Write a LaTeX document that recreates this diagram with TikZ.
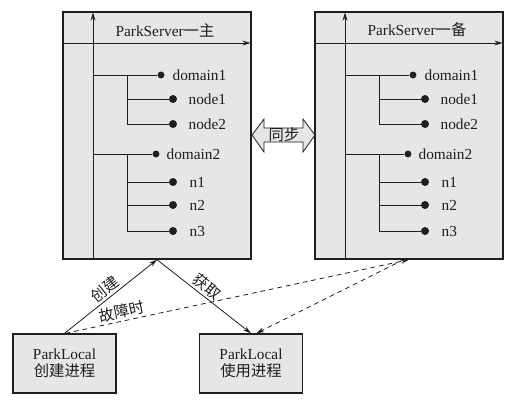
\documentclass[tikz,border=0pt]{standalone}
\usepackage{fontspec}
\setmainfont{Liberation Serif}
\newfontfamily\cjk{Noto Sans CJK SC}
\usetikzlibrary{arrows.meta}
\definecolor{boxfill}{RGB}{230,230,230}
\definecolor{ink}{RGB}{30,30,30}
\tikzset{
  every node/.style={font=\fontsize{11.5pt}{13pt}\selectfont, text=ink},
  srvbox/.style={draw=ink, fill=boxfill, line width=1pt, rectangle,
    minimum width=141pt, minimum height=185.25pt, inner sep=0pt},
  localbox/.style={draw=ink, fill=boxfill, line width=1pt, rectangle,
    minimum width=77.25pt, minimum height=44.25pt, align=center, inner sep=0pt},
  axis/.style={draw=ink, line width=0.6pt, -{Stealth[length=6pt,width=3.6pt]}},
  tree/.style={draw=ink, line width=0.6pt},
  dotd/.style={circle, fill=ink, inner sep=0pt, minimum size=5.2pt},
  dotn/.style={circle, fill=ink, inner sep=0pt, minimum size=6pt},
  lab/.style={anchor=west, inner sep=1pt},
  link/.style={draw=ink, line width=0.6pt, -{Stealth[length=6pt,width=3.6pt]}},
  dlink/.style={draw=ink, line width=0.6pt, dash pattern=on 3.5pt off 3pt,
    -{Stealth[length=6pt,width=3.6pt]}},
  lbl/.style={font=\cjk\fontsize{11.5pt}{13pt}\selectfont, inner sep=0.5pt},
  synctext/.style={font=\cjk\fontsize{11.5pt}{13pt}\selectfont, inner sep=0pt},
  server/.pic={
    \node[srvbox] (-box) at (94,123.5) {};
    \draw[axis] (30,247) -- (30,0.5);
    \draw[axis] (0,31) -- (187.5,31);
    \node (-title) at (102,18) {ParkServer{\cjk #1}};
    \node[dotd] (-d1) at (98,63) {};
    \node[dotn] (-a1) at (110,87) {};
    \node[dotn] (-a2) at (110,112) {};
    \node[dotd] (-d2) at (93,142) {};
    \node[dotn] (-b1) at (110,170) {};
    \node[dotn] (-b2) at (110,193) {};
    \node[dotn] (-b3) at (110,219) {};
    \draw[tree] (30,63) -- (-d1);
    \draw[tree] (64,63) -- (64,112);
    \draw[tree] (64,87) -- (-a1);
    \draw[tree] (64,112) -- (-a2);
    \draw[tree] (30,142) -- (-d2);
    \draw[tree] (64,142) -- (64,219);
    \draw[tree] (64,170) -- (-b1);
    \draw[tree] (64,193) -- (-b2);
    \draw[tree] (64,219) -- (-b3);
    \node[lab] (-t1) at (108,63) {domain1};
    \node[lab] (-t2) at (124,87) {node1};
    \node[lab] (-t3) at (124,112) {node2};
    \node[lab] (-t4) at (102,142) {domain2};
    \node[lab] (-t5) at (125,170) {n1};
    \node[lab] (-t6) at (125,193) {n2};
    \node[lab] (-t7) at (125,219) {n3};
  }
}
\begin{document}
\begin{tikzpicture}[x=0.75pt, y=-0.75pt]
  \useasboundingbox (0,0) rectangle (515,404);
  \pic (srvA) at (63,12) {server=一主};
  \pic (srvB) at (315,12) {server=一备};
  % sync double arrow
  \draw[draw=ink, fill=boxfill, line width=0.6pt]
    (252,135) -- (264,119) -- (264,128) -- (303,128) -- (303,119) -- (315,135)
    -- (303,152) -- (303,142) -- (264,142) -- (264,152) -- cycle;
  \node[synctext] (sync) at (284,135) {同步};
  % local boxes
  \node[localbox] (plA) at (64.5,363.5) {ParkLocal\\{\cjk 创建进程}};
  \node[localbox] (plB) at (251,363.5) {ParkLocal\\{\cjk 使用进程}};
  % connectors
  \draw[link] (plA.north) -- node[lbl, pos=0.5, above=1pt, sloped] {创建} (srvA-box.south);
  \draw[link] (srvA-box.south) -- node[lbl, pos=0.47, above=1pt, sloped] {获取} (plB.north);
  \draw[dlink] ([xshift=0.75pt]plA.north) -- node[lbl, pos=0.17, above=1pt, sloped] {故障时} (srvB-box.south);
  \draw[dlink] ([xshift=-4pt]srvB-box.south) -- ([xshift=4pt]plB.north);
\end{tikzpicture}
\end{document}
